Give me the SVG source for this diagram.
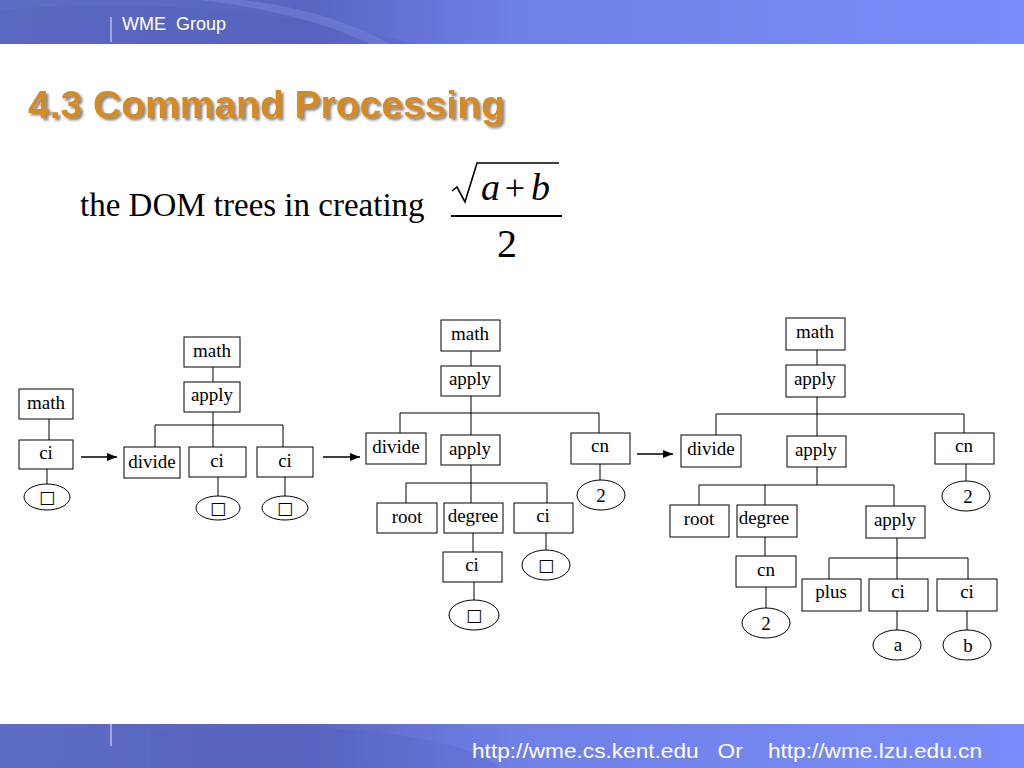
<svg xmlns="http://www.w3.org/2000/svg" width="1024" height="768" viewBox="0 0 1024 768">
<defs>
<linearGradient id="bar" x1="0" y1="0" x2="1" y2="0">
<stop offset="0" stop-color="#5d6cc4"/>
<stop offset="0.3" stop-color="#5866c2"/>
<stop offset="0.5" stop-color="#6f80e6"/>
<stop offset="1" stop-color="#7a8cf9"/>
</linearGradient>
<filter id="shadow" x="-5%" y="-20%" width="110%" height="150%">
<feDropShadow dx="2.5" dy="2.5" stdDeviation="1" flood-color="#8a8a8a" flood-opacity="1"/>
</filter>
<marker id="arr" viewBox="0 0 10 10" refX="10" refY="5" markerWidth="10" markerHeight="10" markerUnits="userSpaceOnUse" orient="auto">
<path d="M0,1 L10,5 L0,9 z" fill="#000"/>
</marker>
<style>
.n rect{fill:#fff;stroke:#000;stroke-width:1}
.n ellipse{fill:#fff;stroke:#000;stroke-width:1}
.n text{font-family:"Liberation Serif","Times New Roman",serif;font-size:19px;fill:#000;text-anchor:middle}
.n text.sq{font-family:"DejaVu Sans",sans-serif;font-size:17px;fill:#000}
.c line,.c polyline{stroke:#000;stroke-width:1;fill:none}
.c .ar{stroke-width:1.6}
.m{font-family:"Liberation Serif","Times New Roman",serif;fill:#000}
</style>
</defs>
<rect width="1024" height="768" fill="#fff"/>
<!-- header -->
<rect x="0" y="0" width="1024" height="44" fill="url(#bar)"/>
<path d="M0,10 C120,0 260,5 400,40 L420,44 L0,44 z" fill="#4e5cb4" opacity="0.25"/>
<path d="M200,0 C280,10 330,25 370,44 L390,44 C350,22 300,6 240,0 z" fill="#8a98e8" opacity="0.3"/>
<line x1="111" y1="17" x2="111" y2="42" stroke="#e6e9ff" stroke-width="1"/>
<text x="122" y="30" font-family="Liberation Sans, Arial, sans-serif" font-size="18" fill="#fff" xml:space="preserve">WME  Group</text>
<!-- footer -->
<rect x="0" y="724" width="1024" height="44" fill="url(#bar)"/>
<path d="M150,730 C300,722 450,728 500,768 L150,768 z" fill="#4e5cb4" opacity="0.2"/>
<line x1="111" y1="724" x2="111" y2="746" stroke="#e6e9ff" stroke-width="1"/>
<text x="472" y="758" font-family="Liberation Sans Narrow, Liberation Sans, Arial, sans-serif" font-size="21" fill="#fff" textLength="510" lengthAdjust="spacingAndGlyphs" xml:space="preserve">http://wme.cs.kent.edu   Or    http://wme.lzu.edu.cn</text>
<!-- title -->
<text x="28" y="118" font-family="Liberation Sans, Arial, sans-serif" font-weight="bold" font-size="39" fill="#d98a1f" filter="url(#shadow)">4.3 Command Processing</text>
<!-- subtitle and formula -->
<text class="m" x="80" y="216" font-size="33">the DOM trees in creating</text>
<g id="formula">
<path d="M452,191 L457,187 L465,202 L477,163 L559,163" fill="none" stroke="#000" stroke-width="1.6"/>
<text class="m" x="481" y="200" font-style="italic" font-size="38">a</text>
<text class="m" x="515" y="200" font-size="36" text-anchor="middle">+</text>
<text class="m" x="531" y="200" font-style="italic" font-size="38">b</text>
<line x1="451" y1="216" x2="562" y2="216" stroke="#000" stroke-width="1.8"/>
<text class="m" x="507" y="257" font-size="40" text-anchor="middle">2</text>
</g>
<!-- connectors -->
<g class="c" id="connectors">
<line x1="49" y1="419" x2="49" y2="440"/>
<line x1="47" y1="469" x2="47" y2="484"/>
<line class="ar" x1="81" y1="457" x2="117" y2="457" marker-end="url(#arr)"/>
<line x1="213" y1="367" x2="213" y2="382"/>
<line x1="213" y1="412" x2="213" y2="447"/>
<polyline points="155,447 155,425 283,425 283,447"/>
<line x1="218" y1="477" x2="218" y2="496"/>
<line x1="285" y1="477" x2="285" y2="496"/>
<line class="ar" x1="323" y1="457" x2="360" y2="457" marker-end="url(#arr)"/>
<line x1="471" y1="351" x2="471" y2="366"/>
<line x1="471" y1="396" x2="471" y2="435"/>
<polyline points="400,433 400,413 599,413 599,433"/>
<line x1="471" y1="465" x2="471" y2="503"/>
<polyline points="406,503 406,483 547,483 547,503"/>
<line x1="600" y1="464" x2="600" y2="480"/>
<line x1="473" y1="533" x2="473" y2="552"/>
<line x1="546" y1="533" x2="546" y2="550"/>
<line x1="474" y1="582" x2="474" y2="600"/>
<line class="ar" x1="637" y1="454" x2="673" y2="454" marker-end="url(#arr)"/>
<line x1="817" y1="350" x2="817" y2="365"/>
<line x1="817" y1="397" x2="817" y2="436"/>
<polyline points="716,435 716,414 964,414 964,433"/>
<line x1="817" y1="467" x2="817" y2="485"/>
<polyline points="699,505 699,485 894,485 894,506"/>
<line x1="765" y1="485" x2="765" y2="505"/>
<line x1="966" y1="464" x2="966" y2="481"/>
<line x1="765" y1="537" x2="765" y2="556"/>
<line x1="766" y1="587" x2="766" y2="608"/>
<line x1="897" y1="538" x2="897" y2="579"/>
<polyline points="829,579 829,558 968,558 968,579"/>
<line x1="897" y1="611" x2="897" y2="630"/>
<line x1="967" y1="611" x2="967" y2="630"/>
</g>
<!-- tree 1 nodes -->
<g class="n" id="t1-math"><rect x="19" y="389" width="54" height="30"/><text x="46" y="409">math</text></g>
<g class="n" id="t1-ci"><rect x="19" y="440" width="54" height="29"/><text x="46" y="459">ci</text></g>
<g class="n" id="t1-leaf"><ellipse cx="47" cy="497" rx="23" ry="13"/><text class="sq" x="47" y="503">□</text></g>
<!-- tree 2 nodes -->
<g class="n" id="t2-math"><rect x="184" y="337" width="56" height="30"/><text x="212" y="357">math</text></g>
<g class="n" id="t2-apply"><rect x="184" y="382" width="56" height="30"/><text x="212" y="401">apply</text></g>
<g class="n" id="t2-divide"><rect x="124" y="447" width="56" height="31"/><text x="152" y="468">divide</text></g>
<g class="n" id="t2-ci1"><rect x="189" y="447" width="57" height="30"/><text x="217" y="467">ci</text></g>
<g class="n" id="t2-ci2"><rect x="257" y="447" width="56" height="30"/><text x="285" y="467">ci</text></g>
<g class="n" id="t2-leaf1"><ellipse cx="218" cy="508" rx="22" ry="12"/><text class="sq" x="218" y="514">□</text></g>
<g class="n" id="t2-leaf2"><ellipse cx="285" cy="508" rx="23" ry="12"/><text class="sq" x="285" y="514">□</text></g>
<!-- tree 3 nodes -->
<g class="n" id="t3-math"><rect x="441" y="320" width="59" height="31"/><text x="470" y="340">math</text></g>
<g class="n" id="t3-apply"><rect x="441" y="366" width="59" height="30"/><text x="470" y="385">apply</text></g>
<g class="n" id="t3-divide"><rect x="366" y="433" width="60" height="31"/><text x="396" y="453">divide</text></g>
<g class="n" id="t3-apply2"><rect x="441" y="435" width="59" height="30"/><text x="470" y="455">apply</text></g>
<g class="n" id="t3-cn"><rect x="571" y="433" width="59" height="31"/><text x="600" y="452">cn</text></g>
<g class="n" id="t3-cn-val"><ellipse cx="601" cy="495" rx="24" ry="15"/><text x="601" y="502">2</text></g>
<g class="n" id="t3-root"><rect x="377" y="503" width="60" height="30"/><text x="407" y="523">root</text></g>
<g class="n" id="t3-degree"><rect x="444" y="503" width="59" height="30"/><text x="473" y="522">degree</text></g>
<g class="n" id="t3-ci"><rect x="514" y="503" width="59" height="30"/><text x="543" y="522">ci</text></g>
<g class="n" id="t3-ci-leaf"><ellipse cx="546" cy="565" rx="24" ry="15"/><text class="sq" x="546" y="571">□</text></g>
<g class="n" id="t3-deg-ci"><rect x="443" y="552" width="59" height="30"/><text x="472" y="571">ci</text></g>
<g class="n" id="t3-deg-leaf"><ellipse cx="474" cy="615" rx="25" ry="15"/><text class="sq" x="474" y="621">□</text></g>
<!-- tree 4 nodes -->
<g class="n" id="t4-math"><rect x="786" y="318" width="59" height="32"/><text x="815" y="338">math</text></g>
<g class="n" id="t4-apply"><rect x="786" y="365" width="59" height="32"/><text x="815" y="385">apply</text></g>
<g class="n" id="t4-divide"><rect x="681" y="435" width="60" height="32"/><text x="711" y="455">divide</text></g>
<g class="n" id="t4-apply2"><rect x="787" y="436" width="59" height="31"/><text x="816" y="456">apply</text></g>
<g class="n" id="t4-cn"><rect x="935" y="433" width="59" height="31"/><text x="964" y="452">cn</text></g>
<g class="n" id="t4-cn-val"><ellipse cx="966" cy="496" rx="24" ry="15"/><text x="968" y="503">2</text></g>
<g class="n" id="t4-root"><rect x="670" y="505" width="59" height="32"/><text x="699" y="525">root</text></g>
<g class="n" id="t4-degree"><rect x="737" y="505" width="60" height="32"/><text x="764" y="524">degree</text></g>
<g class="n" id="t4-apply3"><rect x="866" y="506" width="59" height="32"/><text x="895" y="526">apply</text></g>
<g class="n" id="t4-deg-cn"><rect x="736" y="556" width="60" height="31"/><text x="766" y="576">cn</text></g>
<g class="n" id="t4-deg-val"><ellipse cx="766" cy="623" rx="24" ry="15"/><text x="766" y="630">2</text></g>
<g class="n" id="t4-plus"><rect x="802" y="579" width="59" height="32"/><text x="831" y="598">plus</text></g>
<g class="n" id="t4-ci-a"><rect x="869" y="579" width="59" height="32"/><text x="898" y="598">ci</text></g>
<g class="n" id="t4-ci-b"><rect x="937" y="579" width="60" height="32"/><text x="967" y="598">ci</text></g>
<g class="n" id="t4-a"><ellipse cx="897" cy="645" rx="24" ry="15"/><text x="898" y="651">a</text></g>
<g class="n" id="t4-b"><ellipse cx="967" cy="645" rx="24" ry="15"/><text x="968" y="652">b</text></g>
</svg>
